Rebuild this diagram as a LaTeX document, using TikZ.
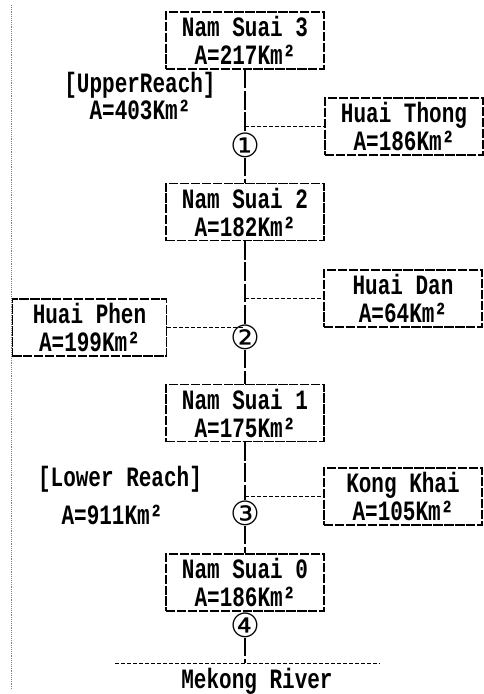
\documentclass[tikz,border=0pt]{standalone}
\usepackage{fontspec}
\setmonofont[FakeStretch=0.75]{Liberation Mono}
\newfontfamily\circfont{DejaVu Sans}
\usepackage{tikz}

\begin{document}
\begin{tikzpicture}[x=0.75pt, y=-0.75pt,
  every node/.style={font=\ttfamily\bfseries\fontsize{21}{21}\selectfont},
  box/.style={draw, line width=0.9pt, dash pattern=on 7pt off 1.2pt,
    minimum width=118.5pt, minimum height=42.75pt, inner sep=0pt, align=center},
  mainline/.style={line width=1.8pt, dash pattern=on 14pt off 2pt},
  branch/.style={line width=0.6pt, dash pattern=on 3pt off 1.5pt},
  num/.style={font=\circfont\fontsize{25}{25}\selectfont, inner sep=0pt}]
  \useasboundingbox (0,0) rectangle (484,694);
  \draw[densely dotted, line width=0.4pt, gray] (11,5) -- (11,690);
  % dams and tributaries
  \node[box] (ns3) at (245,40.5) {Nam Suai 3\\A=217Km²};
  \node[box] (thong) at (404,126.5) {Huai Thong\\A=186Km²};
  \node[box] (ns2) at (245,212) {Nam Suai 2\\A=182Km²};
  \node[box] (dan) at (403,298.5) {Huai Dan\\A=64Km²};
  \node[box, minimum width=116pt] (phen) at (89.5,327.5) {Huai Phen\\A=199Km²};
  \node[box] (ns1) at (245,413) {Nam Suai 1\\A=175Km²};
  \node[box] (khai) at (403,496.5) {Kong Khai\\A=105Km²};
  \node[box] (ns0) at (245,582.5) {Nam Suai 0\\A=186Km²};
  % reaches
  \node[align=center, inner sep=0pt, font=\ttfamily\bfseries\fontsize{21}{14.5}\selectfont]
    (upper) at (140,96) {[UpperReach]\\A=403Km²};
  \node (lower) at (120,479) {[Lower Reach]};
  \node (lowerA) at (112,515) {A=911Km²};
  % points
  \node[num] (c1) at (245,145) {①};
  \node[num] (c2) at (245,337) {②};
  \node[num] (c3) at (245,513) {③};
  \node[num] (c4) at (245,625) {④};
  \coordinate (j1) at (245,126.5);
  \coordinate (j2) at (245,298.5);
  \coordinate (j3) at (245,327.5);
  \coordinate (j4) at (245,496.5);
  \coordinate (mouth) at (245,663);
  \coordinate (rivL) at (115,663);
  \coordinate (rivR) at (380,663);
  \draw[mainline] (ns3) -- (c1) -- (ns2) -- (c2) -- (ns1) -- (c3) -- (ns0);
  \draw[mainline] (c4) -- (mouth);
  \draw[branch] (j1) -- (thong.west);
  \draw[branch] (j2) -- (dan.west);
  \draw[branch] (phen.east) -- (j3);
  \draw[branch] (j4) -- (khai.west);
  \draw[branch] (rivL) -- (rivR);
  \node (mekong) at (257,681) {Mekong River};
\end{tikzpicture}
\end{document}
